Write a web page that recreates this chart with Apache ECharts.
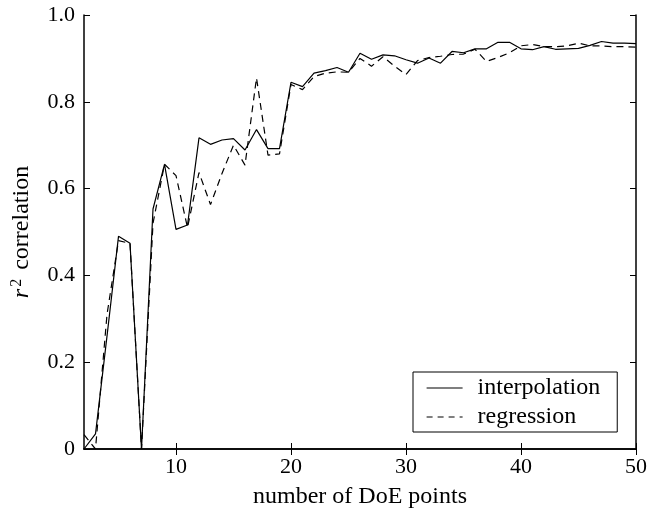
<!DOCTYPE html>
<html>
<head>
<meta charset="utf-8">
<script src="https://cdn.jsdelivr.net/npm/echarts@6/dist/echarts.min.js"></script>
<style>
    html, body { margin: 0; padding: 0; background: #fff; }
    #chart { width: 652px; height: 514px; }
</style>
</head>
<body>
<div id="chart"></div>
<script>
const doePoints = [2, 3, 4, 5, 6, 7, 8, 9, 10, 11, 12, 13, 14, 15, 16, 17, 18, 19, 20,
    21, 22, 23, 24, 25, 26, 27, 28, 29, 30, 31, 32, 33, 34, 35, 36, 37, 38, 39, 40,
    41, 42, 43, 44, 45, 46, 47, 48, 49, 50];

const interpolation = [0.0, 0.035, 0.26, 0.49, 0.474, 0.0, 0.553, 0.656, 0.506, 0.516,
    0.717, 0.702, 0.712, 0.715, 0.689, 0.736, 0.692, 0.692, 0.845,
    0.835, 0.866, 0.872, 0.879, 0.868, 0.912, 0.898, 0.908, 0.906, 0.897,
    0.889, 0.901, 0.889, 0.916, 0.913, 0.922, 0.922, 0.937, 0.937, 0.922,
    0.920, 0.927, 0.921, 0.922, 0.923, 0.930, 0.939, 0.935, 0.935, 0.934];

const regression = [0.033, 0.0, 0.31, 0.48, 0.474, 0.0, 0.52, 0.656, 0.63, 0.51,
    0.637, 0.563, 0.635, 0.70, 0.654, 0.855, 0.677, 0.68, 0.84,
    0.828, 0.858, 0.866, 0.869, 0.868, 0.90, 0.882, 0.904, 0.882, 0.863,
    0.895, 0.902, 0.905, 0.909, 0.91, 0.921, 0.893, 0.902, 0.913, 0.929,
    0.932, 0.927, 0.927, 0.929, 0.935, 0.929, 0.929, 0.927, 0.927, 0.926];

const xTicks = [10, 20, 30, 40, 50];

const fontFamily = "'Liberation Serif', 'DejaVu Serif', serif";

const myChart = echarts.init(document.getElementById('chart'));

function pairs(ys) {
    return doePoints.map((x, i) => [x, ys[i]]);
}

const frameLine = { show: true, lineStyle: { color: '#000', width: 1.5 } };
const tickStyle = { lineStyle: { color: '#000', width: 1 } };

const option = {
    animation: false,
    textStyle: { fontFamily: fontFamily, color: '#000' },
    grid: { left: 84, right: 16, top: 15, bottom: 63 },
    xAxis: [{
        type: 'value',
        min: 2,
        max: 50,
        name: 'number of DoE points',
        nameLocation: 'middle',
        nameGap: 36,
        nameTextStyle: { fontSize: 24, fontFamily: fontFamily, color: '#000' },
        axisLine: frameLine,
        axisTick: Object.assign({ inside: true, length: 6, customValues: xTicks }, tickStyle),
        axisLabel: { customValues: xTicks, fontSize: 22, color: '#000', margin: 7, fontFamily: fontFamily },
        splitLine: { show: false }
    }, {
        type: 'value',
        position: 'top',
        min: 2,
        max: 50,
        axisLine: frameLine,
        axisTick: Object.assign({ inside: true, length: 6, customValues: xTicks }, tickStyle),
        axisLabel: { show: false },
        splitLine: { show: false }
    }],
    yAxis: [{
        type: 'value',
        min: 0,
        max: 1,
        interval: 0.2,
        name: '{i|r}{s|2} correlation',
        nameLocation: 'middle',
        nameGap: 49,
        nameTextStyle: {
            fontSize: 24,
            fontFamily: fontFamily,
            color: '#000',
            rich: {
                i: { fontSize: 24, fontStyle: 'italic', fontFamily: fontFamily, color: '#000' },
                s: { fontSize: 16, verticalAlign: 'top', fontFamily: fontFamily, color: '#000', padding: [0, 3, 10, 2] }
            }
        },
        axisLine: frameLine,
        axisTick: Object.assign({ inside: true, length: 6 }, tickStyle),
        axisLabel: {
            fontSize: 22, color: '#000', margin: 9, fontFamily: fontFamily,
            formatter: v => v === 0 ? '0' : v.toFixed(1)
        },
        splitLine: { show: false }
    }, {
        type: 'value',
        position: 'right',
        min: 0,
        max: 1,
        interval: 0.2,
        axisLine: frameLine,
        axisTick: Object.assign({ inside: true, length: 6 }, tickStyle),
        axisLabel: { show: false },
        splitLine: { show: false }
    }],
    legend: {
        orient: 'vertical',
        left: 413,
        top: 372,
        backgroundColor: '#fff',
        borderColor: '#000',
        borderWidth: 1,
        padding: [4, 17, 3, 13],
        itemWidth: 36,
        itemHeight: 20,
        itemGap: 5,
        itemStyle: { color: 'rgba(0,0,0,0)', borderWidth: 0, opacity: 0 },
        lineStyle: { width: 1.2 },
        textStyle: { fontSize: 24, color: '#000', fontFamily: fontFamily, padding: [0, 0, 0, 10] },
        data: [
            { name: 'interpolation' },
            { name: 'regression', lineStyle: { type: [6, 5], width: 1.2 } }
        ]
    },
    series: [{
        name: 'interpolation',
        type: 'line',
        symbol: 'none',
        data: pairs(interpolation),
        lineStyle: { color: '#000', width: 1.2 },
        itemStyle: { color: '#000' }
    }, {
        name: 'regression',
        type: 'line',
        symbol: 'none',
        data: pairs(regression),
        lineStyle: { color: '#000', width: 1.2, type: [7, 5] },
        itemStyle: { color: '#000' }
    }]
};

myChart.setOption(option);

window.addEventListener('resize', function() {
    myChart.resize();
});
</script>
</body>
</html>
